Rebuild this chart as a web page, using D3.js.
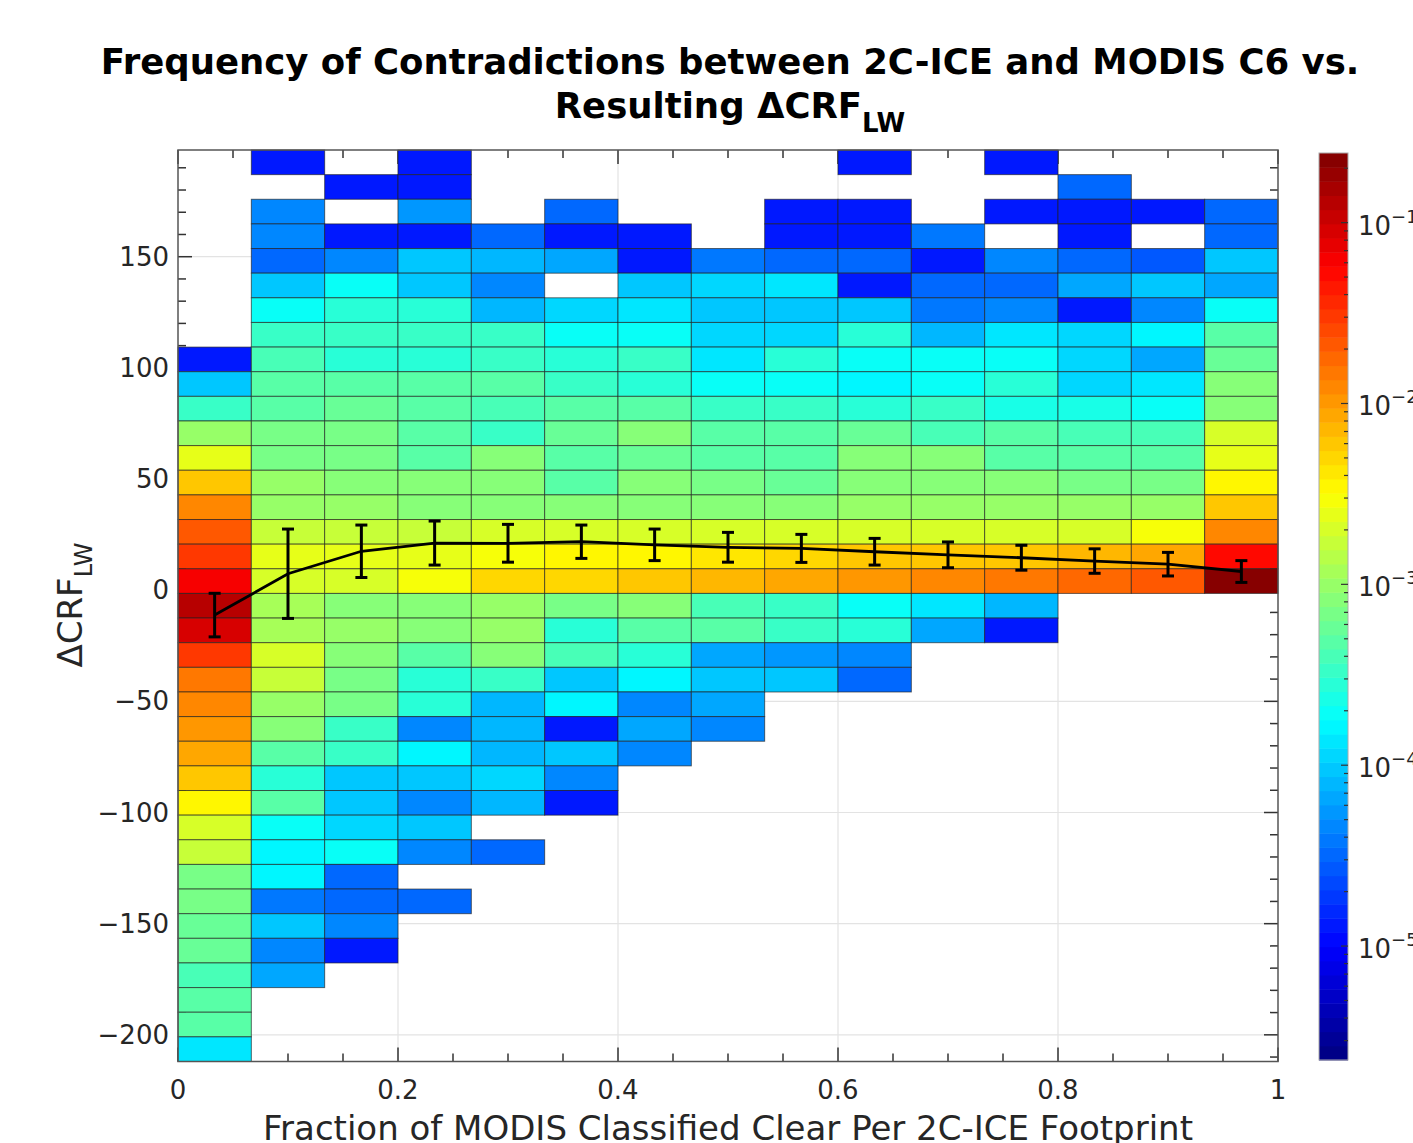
<!DOCTYPE html>
<html>
<head>
<meta charset="utf-8">
<script src="https://cdn.jsdelivr.net/npm/d3@7"></script>
<style>
body { margin: 0; background: #fff; }
text { font-family: "DejaVu Sans", sans-serif; }
</style>
</head>
<body>
<svg width="1413" height="1143"></svg>
<script>
// bins: 15 columns of fraction clear, 37 rows of dCRF_LW
var xEdges = d3.range(16).map(function(i) { return i / 15; });
var yMin = -212, yMax = 198, nRows = 37;

// log10(frequency) per column, listed from the top row (near +198) down; null = empty bin
var col0  = [null,null,null,null,null,null,null,null,-4.9,-4.0,-3.47,-3.0,-2.6,-2.2,-1.9,-1.68,-1.5,-1.23,-0.9,-1.05,-1.5,-1.85,-1.9,-2.0,-2.07,-2.2,-2.48,-2.7,-2.75,-3.15,-3.15,-3.22,-3.22,-3.38,-3.35,-3.35,-3.9];
var col1  = [-4.9,null,-4.35,-4.35,-4.5,-4.0,-3.72,-3.5,-3.43,-3.35,-3.35,-3.17,-3.17,-3.0,-3.0,-2.77,-2.65,-2.73,-2.95,-2.9,-2.73,-2.78,-3.0,-3.1,-3.35,-3.57,-3.35,-3.72,-3.82,-3.75,-4.45,-4.0,-4.35,-4.15,null,null,null];
var col2  = [null,-4.9,null,-4.9,-4.35,-3.72,-3.57,-3.5,-3.57,-3.35,-3.22,-3.17,-3.17,-3.05,-3.0,-2.77,-2.65,-2.68,-3.05,-3.0,-3.1,-3.17,-3.2,-3.47,-3.47,-4.0,-4.0,-3.95,-3.72,-4.5,-4.5,-4.3,-4.9,null,null,null,null];
var col3  = [-4.9,-4.9,-4.25,-4.9,-4.05,-4.0,-3.57,-3.5,-3.57,-3.35,-3.35,-3.35,-3.3,-3.12,-3.05,-2.77,-2.65,-2.52,-3.05,-3.12,-3.3,-3.57,-3.57,-4.3,-3.75,-4.0,-4.35,-4.05,-4.3,null,-4.5,null,null,null,null,null,null];
var col4  = [null,null,null,-4.5,-4.1,-4.3,-4.1,-3.5,-3.47,-3.35,-3.43,-3.47,-3.1,-3.12,-3.05,-2.73,-2.55,-2.32,-3.0,-3.0,-3.1,-3.47,-4.1,-4.1,-4.1,-3.95,-4.1,null,-4.5,null,null,null,null,null,null,null,null];
var col5  = [null,null,-4.5,-4.9,-4.15,null,-3.92,-3.72,-3.57,-3.47,-3.35,-3.22,-3.35,-3.35,-3.1,-2.73,-2.48,-2.28,-3.17,-3.57,-3.43,-4.0,-3.8,-4.9,-4.05,-4.3,-4.9,null,null,null,null,null,null,null,null,null,null];
var col6  = [null,null,null,-4.9,-4.9,-4.05,-3.85,-3.72,-3.5,-3.57,-3.35,-3.12,-3.22,-3.12,-3.05,-2.73,-2.45,-2.2,-3.12,-3.35,-3.57,-3.75,-4.3,-4.15,-4.3,null,null,null,null,null,null,null,null,null,null,null,null];
var col7  = [null,null,null,null,-4.4,-3.92,-4.0,-3.95,-3.9,-3.72,-3.5,-3.35,-3.35,-3.17,-3.05,-2.68,-2.35,-2.12,-3.38,-3.35,-4.15,-4.0,-4.15,-4.35,null,null,null,null,null,null,null,null,null,null,null,null,null];
var col8  = [null,null,-4.9,-4.9,-4.5,-3.9,-4.05,-3.95,-3.57,-3.72,-3.47,-3.35,-3.35,-3.22,-3.1,-2.7,-2.32,-2.05,-3.5,-3.5,-4.25,-4.05,null,null,null,null,null,null,null,null,null,null,null,null,null,null,null];
var col9  = [-4.9,null,-4.9,-4.9,-4.5,-4.9,-4.05,-3.57,-3.68,-3.82,-3.57,-3.22,-3.1,-3.1,-3.0,-2.68,-2.22,-2.0,-3.72,-3.57,-4.3,-4.5,null,null,null,null,null,null,null,null,null,null,null,null,null,null,null];
var col10 = [null,null,null,-4.45,-4.9,-4.5,-4.4,-4.1,-3.68,-3.72,-3.47,-3.38,-3.1,-3.1,-3.0,-2.68,-2.2,-1.9,-3.9,-4.15,null,null,null,null,null,null,null,null,null,null,null,null,null,null,null,null,null];
var col11 = [-4.9,null,-4.9,null,-4.35,-4.5,-4.3,-3.85,-3.72,-3.57,-3.65,-3.35,-3.3,-3.12,-3.0,-2.68,-2.2,-1.8,-4.1,-4.9,null,null,null,null,null,null,null,null,null,null,null,null,null,null,null,null,null];
var col12 = [null,-4.5,-4.9,-4.9,-4.5,-4.15,-4.9,-3.95,-3.95,-3.95,-3.65,-3.38,-3.35,-3.17,-3.0,-2.73,-2.15,-1.73,null,null,null,null,null,null,null,null,null,null,null,null,null,null,null,null,null,null,null];
var col13 = [null,null,-4.9,null,-4.55,-4.05,-4.35,-3.8,-4.15,-3.9,-3.68,-3.38,-3.35,-3.17,-3.0,-2.55,-2.07,-1.65,null,null,null,null,null,null,null,null,null,null,null,null,null,null,null,null,null,null,null];
var col14 = [null,null,-4.5,-4.5,-4.05,-4.15,-3.68,-3.35,-3.22,-3.1,-3.1,-2.73,-2.63,-2.48,-2.2,-1.9,-1.27,-0.6,null,null,null,null,null,null,null,null,null,null,null,null,null,null,null,null,null,null,null];
var columns = [col0,col1,col2,col3,col4,col5,col6,col7,col8,col9,col10,col11,col12,col13,col14];

// mean dCRF_LW per column with error bars
var meanX    = [0.0333,0.1,0.1667,0.2333,0.3,0.3667,0.4333,0.5,0.5667,0.6333,0.7,0.7667,0.8333,0.9,0.9667];
var meanDCRF = [-11.2,7.4,17.5,21.2,21.1,21.8,20.4,19.3,18.8,17.3,15.9,14.6,13.1,11.7,8.4];
var errDCRF  = [9.8,20.1,11.8,9.9,8.5,7.5,7.1,6.7,6.3,6.0,5.8,5.6,5.5,5.3,4.9];

var xTicks = [0, 0.2, 0.4, 0.6, 0.8, 1];
var yTicks = [-200, -150, -100, -50, 0, 50, 100, 150];
var cbarTicks = [-5, -4, -3, -2, -1];
var cbarDomain = [-5.63, -0.615];

var svg = d3.select("svg");
var pLeft = 178, pRight = 1278, pTop = 150, pBottom = 1061.5;

var x = d3.scaleLinear().domain([0, 1]).range([pLeft, pRight]);
var y = d3.scaleLinear().domain([yMin, yMax]).range([pBottom, pTop]);
var rowH = (yMax - yMin) / nRows;

function jet(t) {
	function c(v) { return Math.max(0, Math.min(1, v)); }
	var r = c(Math.min(4 * t - 1.5, -4 * t + 4.5));
	var g = c(Math.min(4 * t - 0.5, -4 * t + 3.5));
	var b = c(Math.min(4 * t + 0.5, -4 * t + 2.5));
	return d3.rgb(r * 255, g * 255, b * 255).toString();
}
var jet64 = d3.range(64).map(function(i) { return jet((i + 0.5) / 64); });
var color = d3.scaleQuantize().domain(cbarDomain).range(jet64);

// grid
var grid = svg.append("g").attr("stroke", "#e3e3e3").attr("stroke-width", 1.2);
grid.selectAll(".gx").data(xTicks.slice(1, -1)).enter().append("line")
	.attr("x1", function(d) { return x(d); }).attr("x2", function(d) { return x(d); })
	.attr("y1", pTop).attr("y2", pBottom);
grid.selectAll(".gy").data(yTicks).enter().append("line")
	.attr("y1", function(d) { return y(d); }).attr("y2", function(d) { return y(d); })
	.attr("x1", pLeft).attr("x2", pRight);

// ticks (drawn under the cells like in the original)
var tk = svg.append("g").attr("stroke", "#333").attr("stroke-width", 1.5);
var xMinor = d3.range(0, 1.0001, 0.05);
var yMinor = d3.range(-210, 198, 10);
xMinor.forEach(function(v) {
	var major = Math.abs(v * 5 - Math.round(v * 5)) < 1e-6;
	var len = major ? 14 : 8;
	tk.append("line").attr("x1", x(v)).attr("x2", x(v)).attr("y1", pBottom).attr("y2", pBottom - len);
	tk.append("line").attr("x1", x(v)).attr("x2", x(v)).attr("y1", pTop).attr("y2", pTop + len);
});
yMinor.forEach(function(v) {
	var len = (v % 50 === 0) ? 14 : 8;
	tk.append("line").attr("y1", y(v)).attr("y2", y(v)).attr("x1", pLeft).attr("x2", pLeft + len);
	tk.append("line").attr("y1", y(v)).attr("y2", y(v)).attr("x1", pRight).attr("x2", pRight - len);
});

// histogram cells
var cells = [];
columns.forEach(function(col, i) {
	col.forEach(function(v, r) {
		if (v === null) return;
		cells.push({ x0: xEdges[i], x1: xEdges[i + 1], y1: yMax - r * rowH, y0: yMax - (r + 1) * rowH, v: v });
	});
});
svg.append("g").selectAll("rect").data(cells).enter().append("rect")
	.attr("x", function(d) { return x(d.x0); })
	.attr("y", function(d) { return y(d.y1); })
	.attr("width", function(d) { return x(d.x1) - x(d.x0); })
	.attr("height", function(d) { return y(d.y0) - y(d.y1); })
	.attr("fill", function(d) { return color(d.v); })
	.attr("stroke", "rgba(30,30,30,0.65)").attr("stroke-width", 1);

// mean line with error bars
var pts = meanX.map(function(d, i) { return { x: d, m: meanDCRF[i], e: errDCRF[i] }; });
svg.append("path").datum(pts)
	.attr("d", d3.line().x(function(d) { return x(d.x); }).y(function(d) { return y(d.m); }))
	.attr("fill", "none").attr("stroke", "#000").attr("stroke-width", 2.8);
var eb = svg.append("g").attr("stroke", "#000").attr("stroke-width", 3);
pts.forEach(function(d) {
	var cx = x(d.x);
	eb.append("line").attr("x1", cx).attr("x2", cx).attr("y1", y(d.m - d.e)).attr("y2", y(d.m + d.e));
	eb.append("line").attr("x1", cx - 6).attr("x2", cx + 6).attr("y1", y(d.m - d.e)).attr("y2", y(d.m - d.e));
	eb.append("line").attr("x1", cx - 6).attr("x2", cx + 6).attr("y1", y(d.m + d.e)).attr("y2", y(d.m + d.e));
});

// frame
svg.append("rect").attr("x", pLeft).attr("y", pTop).attr("width", pRight - pLeft).attr("height", pBottom - pTop)
	.attr("fill", "none").attr("stroke", "#555").attr("stroke-width", 1.5);

// tick labels
svg.append("g").selectAll("text").data(xTicks).enter().append("text")
	.attr("x", function(d) { return x(d); }).attr("y", 1099)
	.attr("text-anchor", "middle").attr("font-size", 26).attr("fill", "#262626")
	.text(function(d) { return d === 0 || d === 1 ? d : d.toFixed(1); });
svg.append("g").selectAll("text").data(yTicks).enter().append("text")
	.attr("x", 169).attr("y", function(d) { return y(d) + 9; })
	.attr("text-anchor", "end").attr("font-size", 26).attr("fill", "#262626")
	.text(function(d) { return d < 0 ? "\u2212" + (-d) : d; });

// axis labels
svg.append("text").attr("x", x(0.5)).attr("y", 1140).attr("text-anchor", "middle")
	.attr("font-size", 34).attr("fill", "#262626")
	.text("Fraction of MODIS Classified Clear Per 2C-ICE Footprint");
var yl = svg.append("text").attr("transform", "translate(82,605) rotate(-90)")
	.attr("text-anchor", "middle").attr("font-size", 34).attr("fill", "#262626");
yl.append("tspan").text("\u0394CRF");
yl.append("tspan").attr("font-size", 24).attr("dy", 10).text("LW");

// title
svg.append("text").attr("x", 730).attr("y", 74).attr("text-anchor", "middle")
	.attr("font-size", 35.5).attr("font-weight", "bold").attr("fill", "#000")
	.text("Frequency of Contradictions between 2C-ICE and MODIS C6 vs.");
var t2 = svg.append("text").attr("x", 730).attr("y", 118).attr("text-anchor", "middle")
	.attr("font-size", 35.5).attr("font-weight", "bold").attr("fill", "#000");
t2.append("tspan").text("Resulting \u0394CRF");
t2.append("tspan").attr("font-size", 26).attr("dy", 14).text("LW");

// colorbar
var cbX = 1319, cbW = 29, cbTop = 153, cbBot = 1060;
var cy = d3.scaleLinear().domain(cbarDomain).range([cbBot, cbTop]);
var step = (cbarDomain[1] - cbarDomain[0]) / 64;
svg.append("g").selectAll("rect").data(jet64).enter().append("rect")
	.attr("x", cbX).attr("width", cbW)
	.attr("y", function(d, i) { return cy(cbarDomain[0] + (i + 1) * step); })
	.attr("height", function(d, i) { return cy(cbarDomain[0] + i * step) - cy(cbarDomain[0] + (i + 1) * step) + 0.5; })
	.attr("fill", function(d) { return d; });
svg.append("rect").attr("x", cbX).attr("y", cbTop).attr("width", cbW).attr("height", cbBot - cbTop)
	.attr("fill", "none").attr("stroke", "#aaa").attr("stroke-width", 1);
var cbt = svg.append("g").attr("stroke", "#333").attr("stroke-width", 1.2);
d3.range(-6, 0).forEach(function(k) {
	d3.range(1, 10).forEach(function(m) {
		var v = k + Math.log10(m);
		if (v < cbarDomain[0] || v > cbarDomain[1]) return;
		var len = m === 1 ? 7 : 4;
		cbt.append("line").attr("x1", cbX + cbW).attr("x2", cbX + cbW - len).attr("y1", cy(v)).attr("y2", cy(v));
	});
});
var cbl = svg.append("g").selectAll("text").data(cbarTicks).enter().append("text")
	.attr("x", 1358).attr("y", function(d) { return cy(d) + 12; })
	.attr("font-size", 26).attr("fill", "#262626");
cbl.append("tspan").text("10");
cbl.append("tspan").attr("font-size", 18).attr("dy", -12).text(function(d) { return "\u2212" + (-d); });
</script>
</body>
</html>
